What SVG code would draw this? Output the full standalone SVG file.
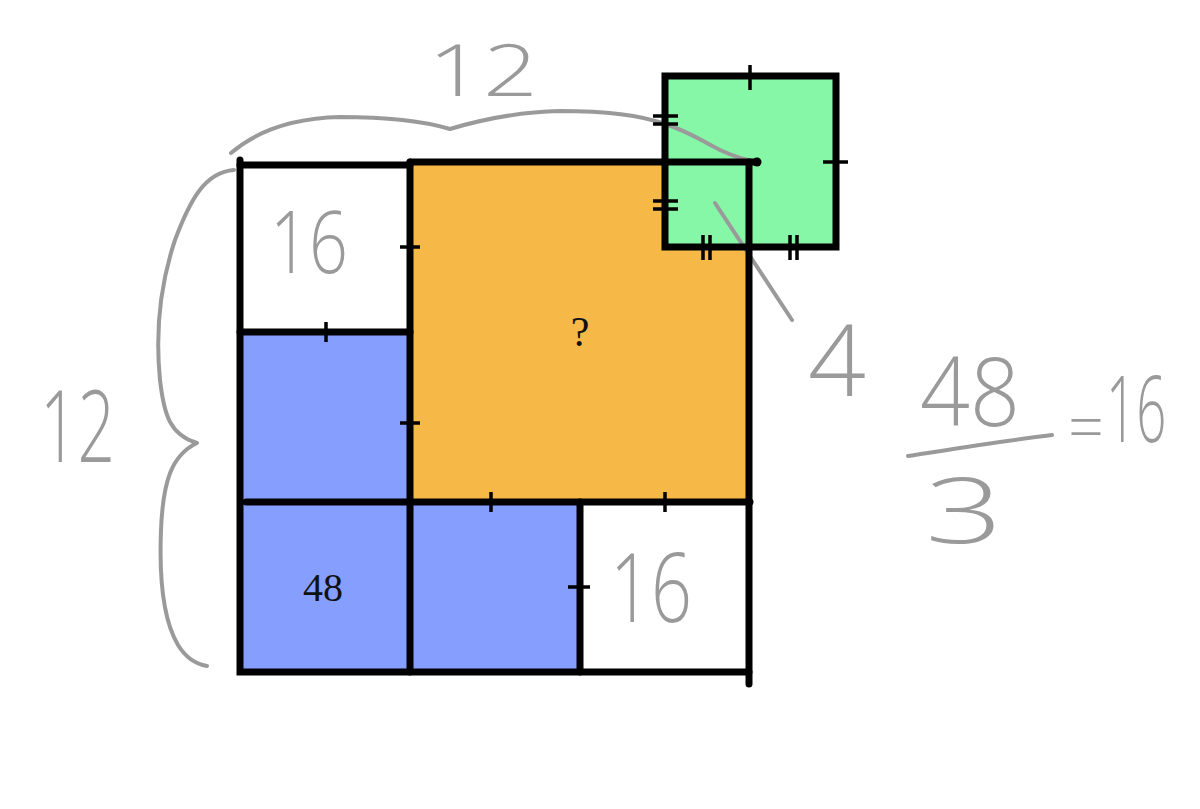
<svg xmlns="http://www.w3.org/2000/svg" width="1200" height="809" viewBox="0 0 1200 809">
<style>
.edge{stroke:#000;stroke-width:7;stroke-linecap:round;fill:none}
.tick{stroke:#000;stroke-width:3.5;fill:none}
.hand{fill:none;stroke:#9a9a9a;stroke-width:4;stroke-linecap:round;stroke-linejoin:round}
.htxt{fill:#9a9a9a;font-family:"Open Sans","DejaVu Sans",sans-serif;font-weight:300}
.lbl{fill:#111;font-family:"Liberation Serif","DejaVu Serif",serif}
</style>
<rect width="1200" height="809" fill="#fff"/>
<g id="fills">
<rect x="410" y="162" width="340" height="340" fill="#F6B846"/>
<rect x="240" y="332" width="170" height="340" fill="#869EFD"/>
<rect x="410" y="502" width="170" height="170" fill="#869EFD"/>
<rect x="665" y="76" width="171" height="171" fill="#86F7A6"/>
</g>
<g id="handwriting">
<path class="hand" d="M231,153 C260,128 300,118 340,117 C380,117 420,120 450,129 C480,120 515,112 560,111 C600,111 640,115 665,124 C690,132 700,140 720,150 C735,157 745,160 755,161"/>
<path class="hand" d="M234,170 C205,172 190,200 175,240 C160,285 155,330 160,380 C164,415 170,435 197,443 C172,455 163,480 161,530 C159,580 163,620 178,645 C186,658 195,664 207,666"/>
<path class="hand" d="M715,203 L792,320"/>
<path class="hand" d="M908,456 C960,448 1010,440 1052,435"/>
<text class="htxt" x="40" y="462" font-size="100" textLength="75" lengthAdjust="spacingAndGlyphs">12</text>
<text class="htxt" x="428" y="96" font-size="72" textLength="110" lengthAdjust="spacingAndGlyphs">12</text>
<text class="htxt" x="808" y="396" font-size="100" textLength="58" lengthAdjust="spacingAndGlyphs">4</text>
<text class="htxt" x="270" y="273" font-size="86" textLength="78" lengthAdjust="spacingAndGlyphs">16</text>
<text class="htxt" x="610" y="622" font-size="96" textLength="82" lengthAdjust="spacingAndGlyphs">16</text>
<text class="htxt" x="920" y="426" font-size="96" textLength="100" lengthAdjust="spacingAndGlyphs">48</text>
<text class="htxt" x="925" y="543" font-size="90" textLength="78" lengthAdjust="spacingAndGlyphs">3</text>
<text class="htxt" x="1068" y="450" font-size="66" textLength="36" lengthAdjust="spacingAndGlyphs">=</text>
<text class="htxt" transform="translate(1106,442) scale(0.8,1.4)" font-size="66">16</text>
</g>
<g id="edges">
<path class="edge" d="M240,160 L240,672 L749,672"/>
<path class="edge" d="M240,165 L410,165"/>
<path class="edge" d="M410,162 L757,162"/>
<path class="edge" d="M240,332 L410,332"/>
<path class="edge" d="M410,162 L410,672"/>
<path class="edge" d="M246,502 L750,502"/>
<path class="edge" d="M580,502 L580,672"/>
<path class="edge" d="M749,162 L749,684"/>
<path class="edge" d="M665,76 L836,76 L836,247 L665,247 Z"/>
<circle cx="757" cy="162" r="4.5" fill="#000"/>
</g>
<g id="ticks">
<path class="tick" d="M400,247 H420 M326,322 V342 M400,423 H420 M491,492 V512 M665,492 V512 M568,587 H590"/>
<path class="tick" d="M750,65 V90 M823,162 H848"/>
<path class="tick" d="M653,116 H678 M653,124 H678 M653,201 H678 M653,209 H678"/>
<path class="tick" d="M703,235 V260 M710,235 V260 M790,235 V260 M797,235 V260"/>
</g>
<g id="labels">
<text class="lbl" x="580" y="346" font-size="42" text-anchor="middle">?</text>
<text class="lbl" x="323" y="601" font-size="40" text-anchor="middle">48</text>
</g>
</svg>
